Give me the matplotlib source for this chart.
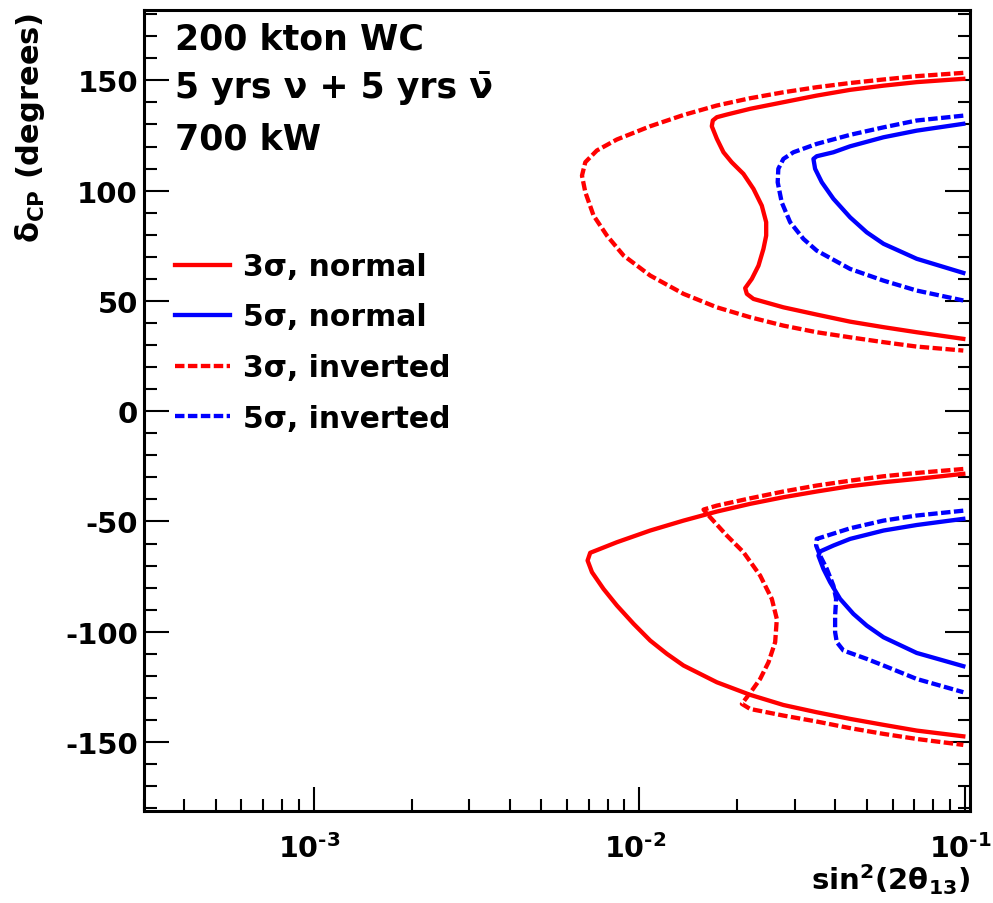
import matplotlib
matplotlib.use("Agg")
import matplotlib.pyplot as plt
from matplotlib.transforms import ScaledTranslation
from matplotlib.ticker import MultipleLocator, LogLocator, FixedLocator, FixedFormatter, NullFormatter

plt.rcParams['font.family'] = ['DejaVu Sans']
plt.rcParams['font.weight'] = 'bold'
plt.rcParams['mathtext.fontset'] = 'dejavusans'
plt.rcParams['axes.unicode_minus'] = False

# ---------------- data ----------------
# 3 sigma, normal hierarchy - upper lobe
n3_up_x = [0.0990, 0.0712, 0.0563, 0.04445, 0.03511, 0.02773, 0.02192, 0.01859, 0.01732, 0.01683,
           0.01671, 0.01732, 0.01815, 0.01923, 0.02090, 0.02244, 0.02380, 0.02455, 0.02455, 0.02408,
           0.02325, 0.02218, 0.02116, 0.02141, 0.02244, 0.02773, 0.03511, 0.04445, 0.0563, 0.0712, 0.0990]
n3_up_y = [150.7, 149.2, 147.6, 145.7, 143.1, 140.1, 137.1, 134.5, 133.3, 131.8,
           129.2, 123.5, 117.4, 112.9, 107.6, 100.8, 93.2, 85.7, 79.6, 73.6,
           66.0, 60.0, 55.8, 53.2, 50.9, 47.1, 43.8, 40.6, 38.1, 35.8, 32.8]
# 3 sigma, inverted hierarchy - upper lobe
i3_up_x = [0.0990, 0.0712, 0.0563, 0.04445, 0.03511, 0.02773, 0.02192, 0.01732, 0.01368, 0.01081,
           0.00854, 0.00741, 0.00683, 0.00667, 0.00683, 0.00724, 0.00796, 0.00895, 0.01081, 0.01368,
           0.01732, 0.02192, 0.02773, 0.03511, 0.04445, 0.0563, 0.0712, 0.0990]
i3_up_y = [153.4, 151.9, 150.4, 148.8, 146.9, 144.6, 141.9, 138.6, 134.3, 129.2,
           123.2, 118.2, 112.9, 106.8, 99.3, 88.7, 79.6, 70.6, 61.5, 53.2,
           47.1, 42.6, 38.8, 35.8, 33.5, 31.3, 29.3, 27.5]
# 5 sigma, normal hierarchy - upper lobe
n5_up_x = [0.0990, 0.0712, 0.0563, 0.04445, 0.03950, 0.03511, 0.03429, 0.03470, 0.03638, 0.03950,
           0.04445, 0.0500, 0.0563, 0.0712, 0.0990]
n5_up_y = [130.3, 127.2, 124.2, 120.1, 117.4, 115.6, 114.4, 109.9, 103.8, 96.3,
           87.9, 81.1, 75.9, 69.1, 62.7]
# 5 sigma, inverted hierarchy - upper lobe
i5_up_x = [0.0990, 0.0712, 0.0563, 0.04445, 0.03511, 0.02977, 0.02773, 0.02675, 0.02663, 0.02740,
           0.02908, 0.03196, 0.03511, 0.04445, 0.0563, 0.0712, 0.0990]
i5_up_y = [134.0, 131.8, 128.7, 125.3, 121.2, 117.4, 114.4, 109.9, 103.8, 94.7,
           85.7, 78.1, 72.8, 64.5, 59.2, 54.7, 50.2]
# 3 sigma, normal hierarchy - lower lobe
n3_lo_x = [0.0990, 0.0712, 0.0563, 0.04445, 0.03511, 0.02773, 0.02192, 0.01732, 0.01368, 0.01081,
           0.00854, 0.00707, 0.00694, 0.00716, 0.00777, 0.00854, 0.00961, 0.01081, 0.01216, 0.01368,
           0.01732, 0.02192, 0.02773, 0.03511, 0.04445, 0.0563, 0.0712, 0.0990]
n3_lo_y = [-28.4, -30.7, -32.2, -34.0, -36.4, -39.0, -42.0, -45.5, -49.6, -54.1,
           -59.4, -64.2, -67.7, -73.0, -80.6, -88.1, -96.4, -104.0, -110.0, -115.3,
           -122.9, -128.6, -133.2, -136.5, -139.5, -142.2, -144.8, -147.4]
# 3 sigma, inverted hierarchy - lower lobe
i3_lo_x = [0.0990, 0.0712, 0.0563, 0.04445, 0.03511, 0.02773, 0.02192, 0.01732, 0.01576, 0.01652,
           0.01859, 0.02090, 0.02352, 0.02555, 0.02647, 0.02616, 0.02496, 0.02352, 0.02218, 0.02141,
           0.02067, 0.02192, 0.02773, 0.03511, 0.04445, 0.0563, 0.0712, 0.0990]
i3_lo_y = [-26.2, -28.0, -29.5, -31.5, -33.7, -36.4, -39.5, -42.8, -44.6, -48.1,
           -56.4, -63.9, -74.5, -85.1, -94.2, -104.7, -113.8, -121.4, -126.7, -129.7,
           -132.7, -135.0, -138.0, -140.7, -143.7, -146.3, -148.6, -151.3]
# 5 sigma, normal hierarchy - lower lobe
n5_lo_x = [0.0990, 0.0712, 0.0563, 0.04445, 0.03950, 0.03595, 0.03553, 0.03681, 0.03858, 0.04141,
           0.04550, 0.0500, 0.0563, 0.0712, 0.0990]
n5_lo_y = [-48.8, -51.6, -54.1, -57.9, -60.9, -63.6, -65.5, -71.5, -77.5, -85.1,
           -91.9, -97.2, -102.5, -109.6, -115.6]
# 5 sigma, inverted hierarchy - lower lobe
i5_lo_x = [0.0990, 0.0712, 0.0563, 0.04445, 0.03511, 0.03495, 0.03595, 0.03770, 0.03950, 0.04026,
           0.03998, 0.03998, 0.04045, 0.04240, 0.0500, 0.0563, 0.0712, 0.0990]
i5_lo_y = [-45.1, -47.3, -49.6, -53.1, -57.9, -60.9, -65.5, -71.5, -79.1, -85.1,
           -92.7, -100.2, -104.7, -108.5, -112.3, -115.3, -121.4, -127.4]

labels = ["3σ, normal", "5σ, normal", "3σ, inverted", "5σ, inverted"]
xtick_vals = [1e-3, 1e-2, 1e-1]
xtick_labels = ["$\\mathbf{10^{\u20103}}$", "$\\mathbf{10^{\u20102}}$", "$\\mathbf{10^{\u20101}}$"]
ytick_vals = [-150, -100, -50, 0, 50, 100, 150]
info_lines = ["200 kton WC", "5 yrs ν + 5 yrs ν\u0304", "700 kW"]

# ---------------- figure ----------------
W, H = 993, 904
fig = plt.figure(figsize=(W / 100, H / 100), dpi=100)
ax = fig.add_axes([143.5 / W, 1 - 812.3 / H, (970 - 143.5) / W, (812.3 - 11) / H])

RED = "#ff0000"
BLUE = "#0000ff"
LW = 3.1
DASH = (2.2, 0.8)

l1, = ax.plot(n3_up_x, n3_up_y, color=RED, lw=LW, solid_joinstyle='round')
ax.plot(n3_lo_x, n3_lo_y, color=RED, lw=LW, solid_joinstyle='round')
l2, = ax.plot(n5_up_x, n5_up_y, color=BLUE, lw=LW, solid_joinstyle='round')
ax.plot(n5_lo_x, n5_lo_y, color=BLUE, lw=LW, solid_joinstyle='round')
l3, = ax.plot(i3_up_x, i3_up_y, color=RED, lw=LW, dashes=DASH)
ax.plot(i3_lo_x, i3_lo_y, color=RED, lw=LW, dashes=DASH)
l4, = ax.plot(i5_up_x, i5_up_y, color=BLUE, lw=LW, dashes=DASH)
ax.plot(i5_lo_x, i5_lo_y, color=BLUE, lw=LW, dashes=DASH)

ax.set_xscale('log')
ax.set_xlim(3.0e-4, 0.1038)
ax.set_ylim(-181.4, 181.9)

ax.xaxis.set_major_locator(FixedLocator(xtick_vals))
ax.xaxis.set_major_formatter(FixedFormatter(xtick_labels))
ax.xaxis.set_minor_locator(LogLocator(base=10, subs=[2, 3, 4, 5, 6, 7, 8, 9], numticks=20))
ax.xaxis.set_minor_formatter(NullFormatter())
ax.yaxis.set_major_locator(FixedLocator(ytick_vals))
ax.yaxis.set_major_formatter(FixedFormatter([str(v) for v in ytick_vals]))
ax.yaxis.set_minor_locator(MultipleLocator(10))

for s in ax.spines.values():
    s.set_linewidth(2.2)
ax.tick_params(axis='both', which='both', direction='in', width=1.5, top=False)
ax.tick_params(axis='y', which='both', right=True, left=True)
ax.tick_params(axis='y', which='major', length=18, pad=4, labelsize=21)
ax.tick_params(axis='y', which='minor', length=9)
ax.tick_params(axis='x', which='major', length=17, pad=16, labelsize=20.5)
ax.tick_params(axis='x', which='minor', length=8.5)
for t in ax.get_yticklabels() + ax.get_xticklabels():
    t.set_fontweight('bold')
shift = ScaledTranslation(-4 / 100, 0, fig.dpi_scale_trans)
for t in ax.get_xticklabels():
    t.set_transform(t.get_transform() + shift)

# info text
for txt, base in zip(info_lines, [50, 98, 150]):
    fig.text(175 / W, 1 - base / H, txt, fontsize=25, fontweight='bold', va='baseline', ha='left')

# axis titles
fig.text(30 / W, 1 - 13 / H, r"δ$_{\mathbf{CP}}$ (degrees)", rotation=90, fontsize=22,
         fontweight='bold', ha='center', va='top')
fig.text(970 / W, 1 - 890 / H, r"sin$^{\mathbf{2}}$(2θ$_{\mathbf{13}}$)", fontsize=21,
         fontweight='bold', ha='right', va='baseline')

leg = ax.legend([l1, l2, l3, l4], labels, loc='upper left',
                bbox_to_anchor=(175 / W, 1 - 253 / H), bbox_transform=fig.transFigure,
                frameon=False, fontsize=21.5, handlelength=1.85, handletextpad=0.43,
                labelspacing=0.72, borderpad=0, borderaxespad=0)
for t in leg.get_texts():
    t.set_fontweight('bold')

fig.savefig("out.png", dpi=100)
